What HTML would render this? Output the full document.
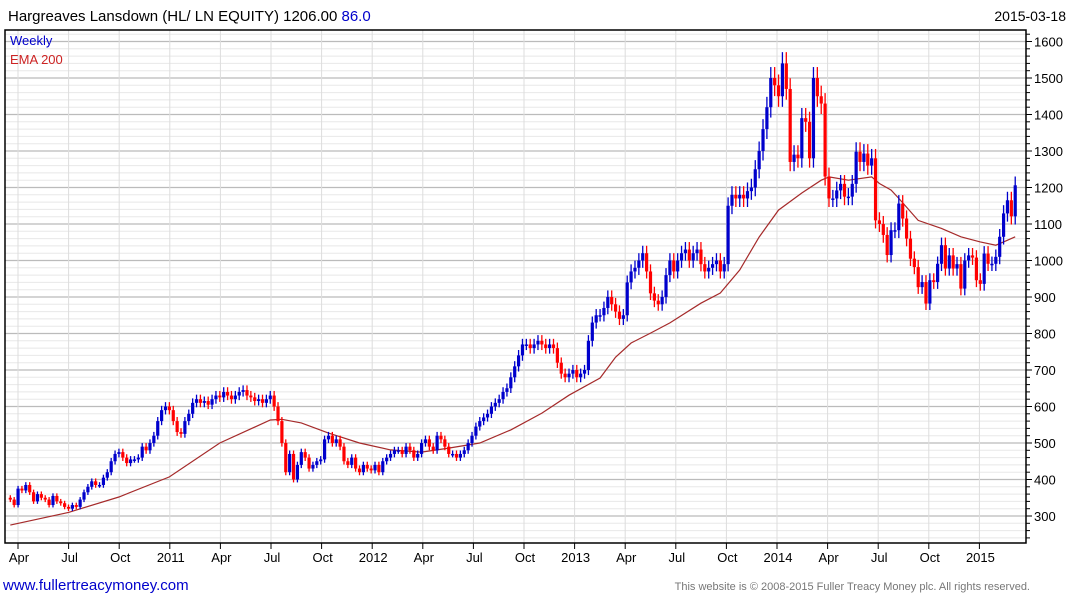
<!DOCTYPE html>
<html><head><meta charset="utf-8"><style>
body{margin:0;background:#fff;width:1075px;height:600px;overflow:hidden;font-family:"Liberation Sans",sans-serif}
</style></head><body>
<svg id="c" width="1075" height="600" xmlns="http://www.w3.org/2000/svg" font-family="Liberation Sans, sans-serif">
<text x="8" y="21" font-size="15"><tspan fill="#000">Hargreaves Lansdown (HL/ LN EQUITY) 1206.00 </tspan><tspan fill="#0000cc">86.0</tspan></text>
<text x="1066" y="21" font-size="14" text-anchor="end" fill="#000">2015-03-18</text>
<g id="grid"></g><g id="ema"></g><g id="bars"></g><g id="axes"></g>
<text x="10" y="45" font-size="13" fill="#0000cc">Weekly</text>
<text x="10" y="64" font-size="13" fill="#cc2222">EMA 200</text>
<text x="3" y="590" font-size="15" fill="#0000cc">www.fullertreacymoney.com</text>
<text x="1030" y="590" font-size="11" text-anchor="end" fill="#777">This website is © 2008-2015 Fuller Treacy Money plc. All rights reserved.</text>
</svg>
<script>
const closes=[345,330,375,370,385,365,340,360,350,345,
330,355,340,335,325,320,330,325,345,365,
380,395,385,385,405,420,450,470,475,460,
445,455,455,460,490,480,500,520,560,590,
600,590,560,530,525,560,580,610,620,610,
615,605,620,630,625,640,630,620,630,640,
645,630,625,615,620,610,620,630,600,560,
500,420,470,400,440,475,460,430,440,450,
455,510,520,500,510,490,450,440,460,430,
420,440,430,425,440,420,450,460,470,480,
480,470,490,480,460,470,500,510,490,480,
520,510,490,470,470,460,470,480,500,520,
545,560,570,580,600,610,620,640,650,680,
710,740,770,770,760,770,780,770,760,770,
760,720,690,680,690,700,680,690,700,780,
830,850,850,870,900,880,860,840,850,940,
970,980,1000,1020,970,910,890,880,900,960,
1000,970,1000,1020,1030,1000,1020,1030,990,970,
980,990,1000,970,990,1150,1180,1170,1180,1170,
1190,1200,1250,1300,1360,1420,1500,1480,1450,1540,
1470,1270,1290,1280,1390,1380,1280,1500,1450,1430,
1230,
1170,1170,1192,1210,1175,1175,1210,1298,1270,1293,
1260,1280,1110,1100,1070,1015,1083,1083,1156,1115,
1060,1005,982,927,941,882,946,941,991,1042,
978,1014,978,990,923,1000,1014,1008,946,936,
1019,991,991,1010,1065,1129,1165,1121,1206];
const emaWeek=[0,15,28,41,54,67,70,75,82,90,98,106,113,121,129,137,144,152,156,160,165,170,178,183,188,193,198,204,209,211,216,222,224,227,229,234,240,245,250,254,256,259];
const emaVal=[275,310,352,407,500,563,565,555,527,500,481,475,486,500,536,582,631,678,735,774,801,829,883,911,974,1064,1138,1185,1220,1229,1220,1229,1211,1193,1170,1110,1088,1065,1051,1042,1051,1065];
const yTicks=[300,400,500,600,700,800,900,1000,1100,1200,1300,1400,1500,1600];
const xLabels=["Apr","Jul","Oct","2011","Apr","Jul","Oct","2012","Apr","Jul","Oct","2013","Apr","Jul","Oct","2014","Apr","Jul","Oct","2015"];
const NS="http://www.w3.org/2000/svg";
const L=5,R=1026,T=30,B=543;
const yS=v=>516-(v-300)*0.365;
const xS=i=>10.3+i*3.88;
const qX=q=>18+q*50.6;
function mk(t,a,p){const e=document.createElementNS(NS,t);for(const k in a)e.setAttribute(k,a[k]);p.appendChild(e);return e;}
const grid=document.getElementById('grid'),axes=document.getElementById('axes'),bars=document.getElementById('bars'),emaG=document.getElementById('ema');
for(let v=240;v<=1640;v+=20){const y=yS(v);if(y<T||y>B)continue;
 const major=v%100===0;
 const g=mk('line',{x1:L,x2:R,y1:y,y2:y,stroke:major?'#bbb':'#e8e8e8','stroke-width':major?1.2:1},grid);
 
 
 const tk=mk('line',{x1:R,x2:R+(major?6:4),y1:y,y2:y,stroke:'#000'},axes);
 
 }
yTicks.forEach(v=>{const t=mk('text',{x:1034,y:yS(v)+5,'font-size':13,fill:'#000'},axes);t.textContent=v;
 
 });
xLabels.forEach((s,q)=>{const x=qX(q);
 const g=mk('line',{x1:x,x2:x,y1:T,y2:B,stroke:'#ddd'},grid);
 
 
 const tk=mk('line',{x1:x,x2:x,y1:B,y2:B+6,stroke:'#000'},axes);
 
 
 const t=mk('text',{x:x+1,y:562,'font-size':13,'text-anchor':'middle',fill:'#000'},axes);t.textContent=s;
 
 });
const fr=mk('rect',{x:L,y:T,width:R-L,height:B-T,fill:'none',stroke:'#000','stroke-width':1.5},axes);


let d='';emaWeek.forEach((w,k)=>{d+=(k?'L':'M')+xS(w).toFixed(1)+' '+yS(emaVal[k]).toFixed(1);});
const ep=mk('path',{d:d,fill:'none',stroke:'#a52a2a','stroke-width':1.2},emaG);


closes.forEach((c,i)=>{const o=i?closes[i-1]:350;const hi=Math.max(o,c)*1.02,lo=Math.min(o,c)*0.98;
 const col=c>=o?'#0000cc':'#ff0000';const x=xS(i);
 const g=mk('g',{},bars);
 
 
 mk('line',{x1:x,x2:x,y1:yS(hi),y2:yS(lo),stroke:col,'stroke-width':1.3},g);
 const yt=yS(Math.max(o,c)),yb=yS(Math.min(o,c));
 mk('rect',{x:x-1.6,y:yt,width:3.2,height:Math.max(1.5,yb-yt),fill:col},g);});
</script></body></html>
